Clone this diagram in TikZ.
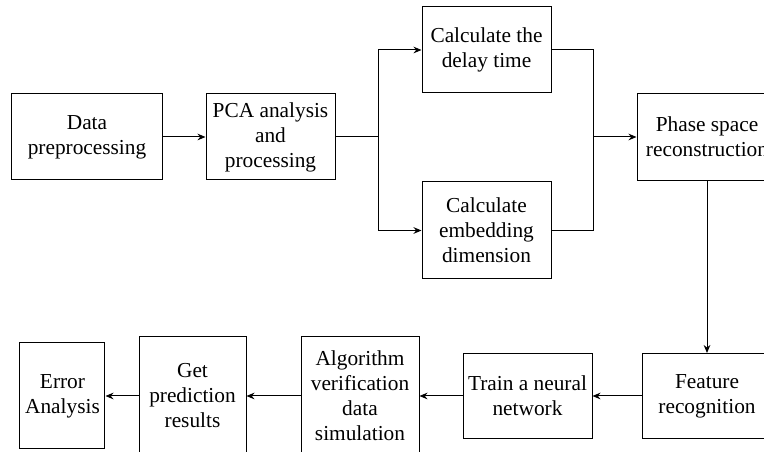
\documentclass[tikz,border=0pt]{standalone}
\usepackage{fontspec}
\setmainfont{Liberation Serif}
\usepackage{tikz}
\usetikzlibrary{arrows.meta,positioning}

\begin{document}
\begin{tikzpicture}[
  node distance=32.25pt,
  box/.style={draw,line width=0.75pt,minimum height=64.5pt,inner sep=2pt,
              align=center,font=\fontsize{16}{18.75}\selectfont},
  arr/.style={-{Stealth[length=6pt,width=5pt]},line width=0.75pt},
  lin/.style={line width=0.75pt}
]
  \clip (-65.25pt,102.75pt) rectangle (507.75pt,-236.25pt);
  % upper row
  \node[box,minimum width=112.5pt] (data) at (0,0) {Data\\preprocessing};
  \node[box,minimum width=96.75pt,right=of data] (pca) {PCA analysis\\and\\processing};
  \coordinate[right=of pca] (split);
  \node[box,minimum width=96.75pt,above right=0pt and 64.5pt of pca] (delay) {Calculate the\\delay time};
  \node[box,minimum width=96.75pt,minimum height=72.75pt,
        below right=0.75pt and 64.5pt of pca] (embed) {Calculate\\embedding\\dimension};
  \coordinate[right=161.25pt of split] (join);
  \node[box,minimum width=105pt,minimum height=65.25pt,right=of join] (phase) {Phase space\\reconstruction};
  \draw[arr] (data) -- (pca);
  \draw[lin] (pca) -- (split);
  \draw[arr] (split) |- (delay);
  \draw[arr] (split) |- (embed);
  \draw[lin] (delay) -| (join) |- (embed);
  \draw[arr] (join) -- (phase);

  % lower row
  \node[box,minimum width=97.5pt,minimum height=63.75pt,below=129pt of phase] (feat) {Feature\\recognition};
  \node[box,minimum width=96.75pt,minimum height=63.75pt,left=36.75pt of feat] (train) {Train a neural\\network};
  \node[box,minimum width=88.5pt,minimum height=88.5pt,left=of train] (algo) {Algorithm\\verification\\data\\simulation};
  \node[box,minimum width=80.25pt,minimum height=88.5pt,left=40.5pt of algo] (pred) {Get\\prediction\\results};
  \node[box,minimum width=63.75pt,minimum height=79.5pt,left=24.75pt of pred] (err) {Error\\Analysis};
  \draw[arr] (phase) -- (feat);
  \draw[arr] (feat) -- (train);
  \draw[arr] (train) -- (algo);
  \draw[arr] (algo) -- (pred);
  \draw[arr] (pred) -- (err);
\end{tikzpicture}
\end{document}
